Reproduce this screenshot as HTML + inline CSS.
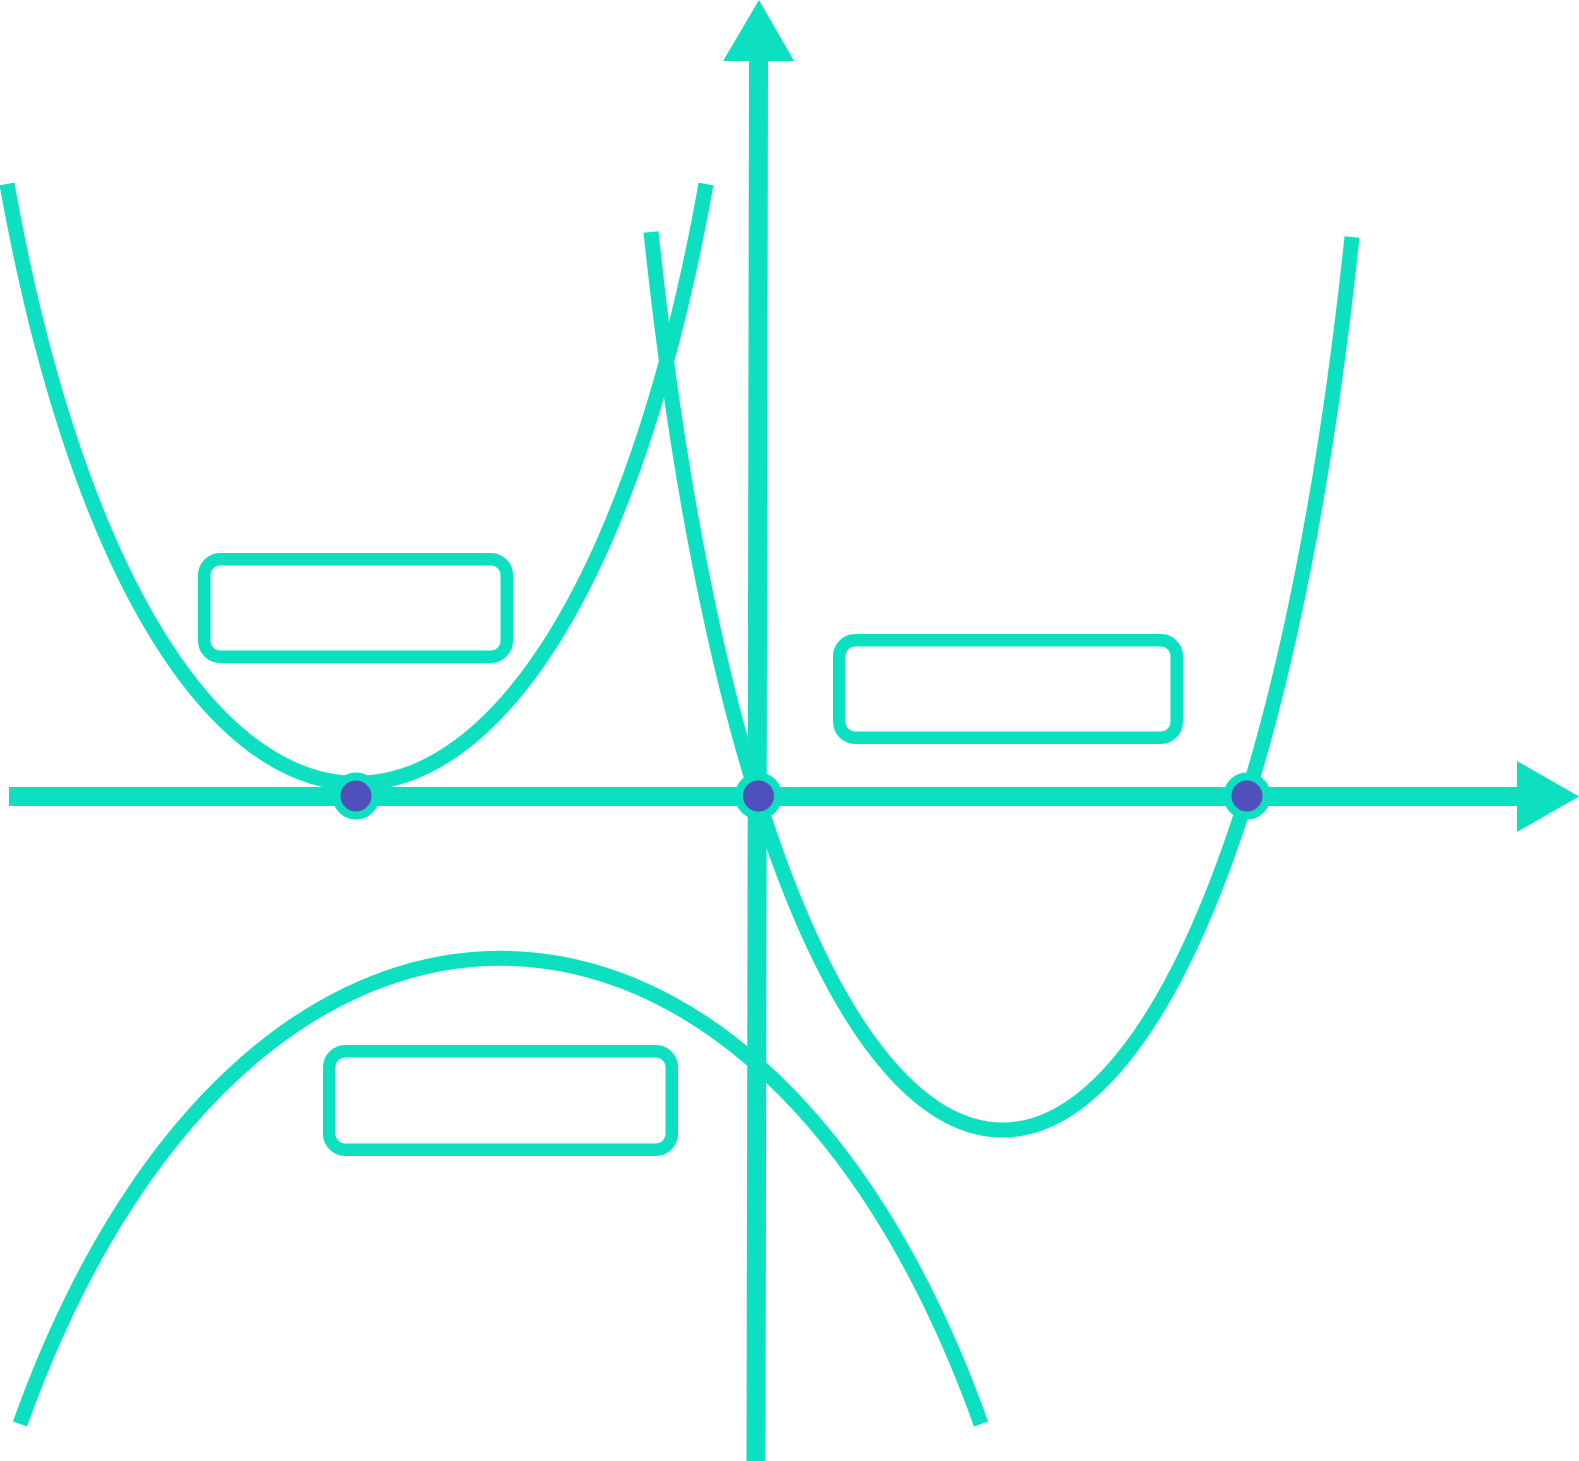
<!DOCTYPE html>
<html>
<head>
<meta charset="utf-8">
<style>
  html, body { margin: 0; padding: 0; background: #ffffff; }
  body { width: 1579px; height: 1461px; overflow: hidden; }
  svg { display: block; }
</style>
</head>
<body>
<svg width="1579" height="1461" viewBox="0 0 1579 1461" xmlns="http://www.w3.org/2000/svg">
  <g fill="none" stroke="#0ce0c0" stroke-linecap="butt">
    <!-- upper-left U curve -->
    <path d="M 7 184 C 150 983, 563 983, 706 184" stroke-width="15"/>
    <!-- big right U curve -->
    <path d="M 651 232 C 777 1426, 1226 1431, 1352 237" stroke-width="15"/>
    <!-- bottom inverted curve -->
    <path d="M 20 1424 C 242 803, 759 803, 981 1424" stroke-width="15"/>

    <!-- boxes -->
    <rect x="204.25" y="559.25" width="302.5" height="97.5" rx="16" ry="16" stroke-width="12.5" fill="#ffffff"/>
    <rect x="839.25" y="640.25" width="337.5" height="97.5" rx="16" ry="16" stroke-width="12.5" fill="#ffffff"/>
    <rect x="329.25" y="1051.25" width="342.5" height="98.5" rx="16" ry="16" stroke-width="12.5" fill="#ffffff"/>

    <!-- horizontal axis -->
    <line x1="9" y1="796.5" x2="1520" y2="796.5" stroke-width="19"/>
    <!-- vertical axis -->
    <line x1="758.5" y1="58" x2="756" y2="1461" stroke-width="19"/>
  </g>
  <!-- arrowheads -->
  <polygon points="1517,761 1579,796.5 1517,832" fill="#0ce0c0"/>
  <polygon points="723,61 759,0 794,61" fill="#0ce0c0"/>

  <!-- points -->
  <g fill="#4f50bc" stroke="#0ce0c0" stroke-width="8">
    <circle cx="356" cy="796" r="19.5"/>
    <circle cx="758.5" cy="796" r="19.5"/>
    <circle cx="1247" cy="796" r="19.5"/>
  </g>
</svg>
</body>
</html>
